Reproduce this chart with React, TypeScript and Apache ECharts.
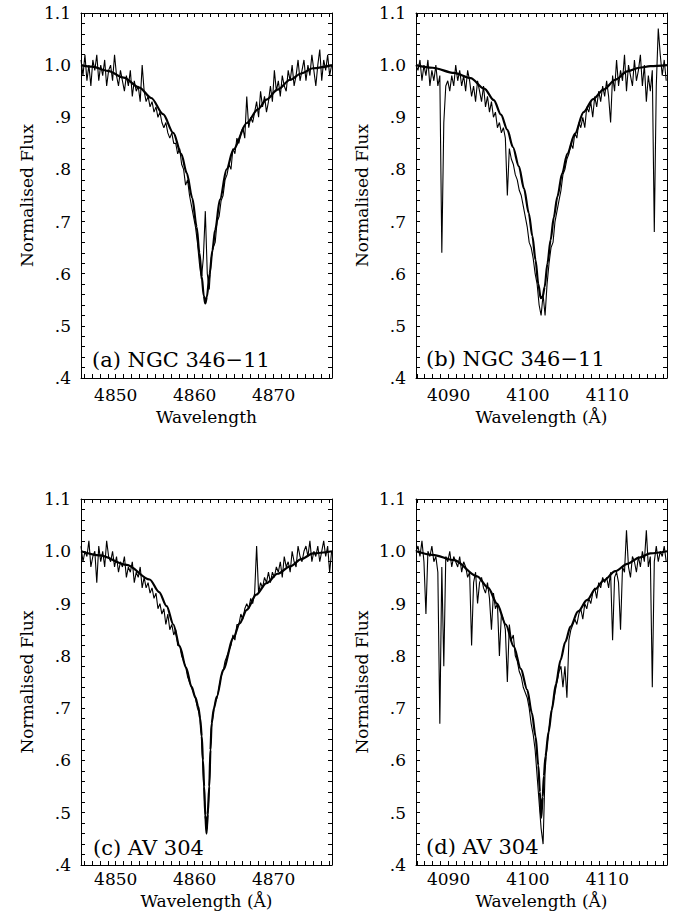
import React, { useEffect, useRef } from "react";
import * as echarts from "echarts";

// ---------- axis settings ----------
const hbetaRange = [4845.6, 4877.4];
const hdeltaRange = [4085.9, 4117.5];
const hbetaLabels = [4850, 4860, 4870];
const hdeltaLabels = [4090, 4100, 4110];
const fluxRange = [0.4, 1.1];
const fluxLabels = [0.4, 0.5, 0.6, 0.7, 0.8, 0.9, 1.0, 1.1];
const panelLabels = ["(a) NGC 346\u221211", "(b) NGC 346\u221211", "(c) AV 304", "(d) AV 304"];
const xNames = ["Wavelength", "Wavelength (\u00c5)", "Wavelength (\u00c5)", "Wavelength (\u00c5)"];
const yName = "Normalised Flux";

// ---------- observed spectra (uniform wavelength grid) ----------
const obsStep = 0.25;
const obsAStart = 4845.6;
const obsA = [
  1.01, 0.98, 1.02, 0.97, 1.0, 0.96, 1.01, 0.99, 1.02, 0.97, 1.0, 0.98, 1.01, 0.96, 0.99, 1.0,
  0.97, 1.02, 0.98, 0.96, 0.99, 0.97, 0.95, 0.98, 0.96, 0.99, 0.94, 0.97, 0.95, 0.96, 0.93, 1.0,
  0.95, 0.93, 0.94, 0.92, 0.93, 0.91, 0.92, 0.9, 0.91, 0.89, 0.88, 0.89, 0.87, 0.86, 0.87, 0.85,
  0.85, 0.83, 0.84, 0.81, 0.8, 0.77, 0.78, 0.75, 0.73, 0.71, 0.69, 0.66, 0.62, 0.59, 0.63, 0.72,
  0.6, 0.57, 0.63, 0.65, 0.66, 0.7, 0.71, 0.74, 0.75, 0.78, 0.79, 0.81, 0.8, 0.84, 0.83, 0.86,
  0.85, 0.87, 0.88, 0.86, 0.94, 0.88, 0.9, 0.89, 0.91, 0.93, 0.9, 0.95, 0.92, 0.94, 0.91, 0.93,
  0.96, 0.93, 0.99, 0.95, 0.97, 0.94, 0.98, 0.96, 0.95, 0.99, 0.97, 1.0, 0.96, 0.98, 1.01, 0.97,
  0.99, 1.01, 0.97, 1.0, 0.98, 1.02, 0.99, 0.96, 1.0, 1.03, 0.97, 1.01, 0.99, 1.02, 0.98, 1.0,
];
const obsBStart = 4085.9;
const obsB = [
  1.0, 0.99, 1.01, 0.97, 1.0, 0.98, 1.01, 0.96, 0.99, 0.97, 1.0, 0.96, 0.98, 0.64, 0.89, 0.96,
  0.97, 0.95, 0.98, 0.96, 1.0, 0.97, 0.99, 0.96, 0.98, 0.95, 0.99, 0.97, 0.94, 0.96, 0.93, 0.97,
  0.95, 0.93, 0.96, 0.92, 0.94, 0.91, 0.93, 0.9, 0.91, 0.88, 0.89, 0.87, 0.88, 0.86, 0.75, 0.84,
  0.82, 0.81, 0.79, 0.78, 0.76, 0.75, 0.73, 0.71, 0.69, 0.66, 0.65, 0.63, 0.6, 0.58, 0.54, 0.52,
  0.56, 0.52, 0.58, 0.62, 0.65, 0.66, 0.7, 0.72, 0.74, 0.76, 0.79, 0.8, 0.82, 0.83, 0.85, 0.84,
  0.87, 0.86, 0.89, 0.88, 0.9, 0.88, 0.92, 0.91, 0.93, 0.9, 0.94, 0.92, 0.95, 0.93, 0.96, 0.94,
  0.97, 0.94, 0.89, 0.98, 0.95, 1.01, 0.96, 0.99, 0.97, 1.02, 0.95, 1.0, 0.98, 0.96, 1.01, 0.97,
  0.99, 1.02, 0.96, 1.0, 0.93, 0.98, 0.95, 0.99, 0.68, 0.96, 1.07, 1.02, 0.98, 1.01, 0.97,
];
const obsCStart = 4845.6;
const obsC = [
  1.01, 0.98, 1.0, 0.99, 1.02, 0.97, 0.99, 1.0, 0.94, 1.01, 0.98, 1.0, 0.97, 1.02, 0.99, 0.98,
  1.0, 0.97, 0.99, 0.96, 0.98, 0.97, 0.99, 0.95, 0.97, 0.96, 0.98, 0.94, 0.96, 0.95, 0.97, 0.93,
  0.95, 0.93, 0.94, 0.92, 0.93, 0.91, 0.92, 0.89, 0.9, 0.88, 0.89, 0.86, 0.88, 0.85, 0.86, 0.84,
  0.85, 0.82, 0.82, 0.8, 0.79, 0.78, 0.76, 0.75, 0.74, 0.73, 0.72, 0.7, 0.69, 0.65, 0.57, 0.49,
  0.47, 0.55, 0.66, 0.69, 0.71, 0.72, 0.74, 0.76, 0.77, 0.79, 0.8, 0.81, 0.82, 0.84, 0.83, 0.86,
  0.86, 0.88, 0.87, 0.89, 0.9, 0.89, 0.91, 0.9, 0.92, 1.01, 0.92, 0.94, 0.93, 0.95, 0.94, 0.96,
  0.94, 0.96, 0.95, 0.97, 0.96, 0.98, 0.95, 0.99, 0.97, 0.98, 0.96, 1.0, 0.98, 0.97, 1.01, 0.99,
  0.98, 1.0, 1.01, 0.99, 1.02, 0.98, 1.0, 0.99, 1.01, 0.98, 1.0, 1.02, 0.99, 1.01, 0.96, 1.0,
];
const obsDStart = 4085.9;
const obsD = [
  1.0, 1.01, 0.99, 1.02, 0.98, 0.88, 1.0, 0.99, 1.01, 0.98, 0.99, 0.96, 0.67, 0.97, 0.78, 0.99,
  0.98, 1.0, 0.97, 0.99, 0.98, 0.97, 0.99, 0.96, 0.98, 0.97, 0.95, 0.96, 0.82, 0.94, 0.96, 0.9,
  0.94, 0.95, 0.93, 0.92, 0.94, 0.91, 0.85, 0.92, 0.89, 0.9, 0.8, 0.88, 0.87, 0.85, 0.75, 0.86,
  0.83, 0.84, 0.8, 0.79, 0.77, 0.76, 0.74, 0.73, 0.72, 0.7, 0.67, 0.65, 0.62, 0.57, 0.52, 0.47,
  0.44, 0.58, 0.63, 0.66, 0.69, 0.71, 0.73, 0.75, 0.77, 0.78, 0.74, 0.78, 0.72, 0.83, 0.85, 0.86,
  0.87, 0.86, 0.88, 0.89, 0.87, 0.9, 0.89, 0.91, 0.9, 0.92, 0.93, 0.91, 0.94, 0.93, 0.95, 0.94,
  0.95, 0.93, 0.96, 0.83, 0.95, 0.96, 0.94, 0.85, 0.97, 0.96, 1.04, 0.97, 0.95, 0.99, 0.98, 0.96,
  0.99, 0.97, 1.0, 0.98, 1.04, 0.97, 0.99, 0.74, 0.98, 1.01, 0.98, 1.0, 0.99, 1.01, 0.98,
];

// ---------- model profiles ----------
const modelAWave = [4845.6, 4847, 4849, 4851, 4853, 4854.5, 4856, 4857.3, 4858.3, 4859.0, 4859.7, 4860.25, 4860.6, 4860.9, 4861.15, 4861.35, 4861.55, 4861.9, 4862.25, 4862.6, 4863.2, 4864.05, 4864.9, 4866.6, 4868, 4869.1, 4870.5, 4872.1, 4873.5, 4875, 4877.4];
const modelAFlux = [1.0, 0.997, 0.989, 0.976, 0.957, 0.937, 0.906, 0.87, 0.83, 0.793, 0.745, 0.69, 0.64, 0.594, 0.558, 0.543, 0.556, 0.6, 0.645, 0.684, 0.742, 0.8, 0.838, 0.889, 0.915, 0.934, 0.953, 0.972, 0.984, 0.994, 1.0];
const modelBWave = [4085.9, 4088, 4090.7, 4092.77, 4094.5, 4095.7, 4096.6, 4097.4, 4098.1, 4098.85, 4099.5, 4100.1, 4100.55, 4100.95, 4101.3, 4101.6, 4101.85, 4102.1, 4102.45, 4102.85, 4103.25, 4103.7, 4104.3, 4104.95, 4105.9, 4107.0, 4108.2, 4109.5, 4111, 4112.5, 4114, 4115.4, 4117.5];
const modelBFlux = [1.0, 0.995, 0.985, 0.975, 0.955, 0.933, 0.905, 0.876, 0.843, 0.806, 0.763, 0.716, 0.672, 0.626, 0.58, 0.553, 0.556, 0.575, 0.62, 0.665, 0.708, 0.748, 0.792, 0.83, 0.868, 0.91, 0.935, 0.953, 0.972, 0.988, 0.995, 0.998, 1.0];
const modelCWave = [4845.6, 4848, 4851.4, 4854.3, 4855.5, 4856.45, 4857.3, 4858.1, 4858.9, 4859.6, 4860.1, 4860.45, 4860.7, 4860.9, 4861.05, 4861.2, 4861.35, 4861.5, 4861.65, 4861.85, 4862.0, 4862.15, 4862.45, 4862.8, 4863.6, 4864.9, 4865.7, 4866.6, 4867.8, 4869.1, 4870.5, 4872.1, 4873.5, 4875.0, 4877.4];
const modelCFlux = [1.0, 0.992, 0.974, 0.946, 0.922, 0.895, 0.86, 0.818, 0.778, 0.741, 0.72, 0.703, 0.68, 0.646, 0.6, 0.55, 0.495, 0.46, 0.497, 0.55, 0.62, 0.671, 0.7, 0.722, 0.773, 0.834, 0.862, 0.888, 0.917, 0.939, 0.957, 0.971, 0.985, 0.996, 1.0];
const modelDWave = [4085.9, 4088, 4090.7, 4093.6, 4095, 4096.1, 4097.2, 4098.2, 4099.1, 4099.9, 4100.5, 4100.95, 4101.3, 4101.5, 4101.66, 4101.85, 4102.0, 4102.2, 4102.6, 4103.0, 4103.5, 4104.1, 4104.7, 4105.35, 4106.3, 4107.45, 4108.5, 4109.5, 4111, 4112.5, 4114, 4115.4, 4117.5];
const modelDFlux = [1.0, 0.993, 0.983, 0.952, 0.93, 0.9, 0.86, 0.818, 0.775, 0.735, 0.69, 0.646, 0.59, 0.54, 0.49, 0.53, 0.57, 0.608, 0.655, 0.697, 0.745, 0.792, 0.827, 0.856, 0.885, 0.907, 0.928, 0.944, 0.962, 0.976, 0.988, 0.996, 1.0];

const FONT = "DejaVu Serif";

const grids = [
  { left: 81, top: 13, width: 251, height: 365 },
  { left: 416, top: 13, width: 251, height: 365 },
  { left: 81, top: 499, width: 251, height: 366 },
  { left: 416, top: 499, width: 251, height: 366 },
];
const xNameGaps = [30, 30, 27, 27];
const xLabelMargins = [8, 8, 5, 5];
const labelPos = [
  [92, 361],
  [426, 360],
  [93, 849],
  [426, 848],
];

function buildOption() {
  const panels = [
    { range: hbetaRange, labels: hbetaLabels, start: obsAStart, obs: obsA, mw: modelAWave, mf: modelAFlux },
    { range: hdeltaRange, labels: hdeltaLabels, start: obsBStart, obs: obsB, mw: modelBWave, mf: modelBFlux },
    { range: hbetaRange, labels: hbetaLabels, start: obsCStart, obs: obsC, mw: modelCWave, mf: modelCFlux },
    { range: hdeltaRange, labels: hdeltaLabels, start: obsDStart, obs: obsD, mw: modelDWave, mf: modelDFlux },
  ];
  const xAxis: any[] = [];
  const yAxis: any[] = [];
  const series: any[] = [];
  const graphic: any[] = [];
  const yTicks: number[] = [];
  for (let k = 0; k <= 35; k++) yTicks.push(Math.round((0.4 + k * 0.02) * 1000) / 1000);
  const line = { show: true, lineStyle: { color: "#000", width: 1 } };
  const tickStyle = { color: "#000", width: 1 };
  panels.forEach((p, i) => {
    const xTicks: number[] = [];
    for (let w = Math.ceil(p.range[0]); w <= p.range[1]; w++) xTicks.push(w);
    xAxis.push({
      type: "value", gridIndex: i, position: "bottom", min: p.range[0], max: p.range[1],
      axisLine: line,
      axisTick: { show: true, inside: true, length: 4, customValues: xTicks, lineStyle: tickStyle },
      axisLabel: {
        customValues: p.labels, color: "#000", fontFamily: FONT, fontSize: 17, lineHeight: 17,
        margin: xLabelMargins[i], formatter: (v: number) => String(Math.round(v)),
      },
      splitLine: { show: false },
      name: xNames[i], nameLocation: "middle", nameGap: xNameGaps[i],
      nameTextStyle: { color: "#000", fontFamily: FONT, fontSize: 17, lineHeight: 17 },
    });
    xAxis.push({
      type: "value", gridIndex: i, position: "top", min: p.range[0], max: p.range[1],
      axisLine: line,
      axisTick: { show: true, inside: true, length: 4, customValues: xTicks, lineStyle: tickStyle },
      axisLabel: { show: false },
      splitLine: { show: false },
    });
    yAxis.push({
      type: "value", gridIndex: i, position: "left", min: fluxRange[0], max: fluxRange[1],
      axisLine: line,
      axisTick: { show: true, inside: true, length: 4, customValues: yTicks, lineStyle: tickStyle },
      axisLabel: {
        customValues: fluxLabels, color: "#000", fontFamily: FONT, fontSize: 17, margin: 10,
        formatter: (v: number) => (v > 0.95 ? v.toFixed(1) : "." + Math.round(v * 10)),
      },
      splitLine: { show: false },
      name: yName, nameLocation: "middle", nameGap: 46,
      nameTextStyle: { color: "#000", fontFamily: FONT, fontSize: 17 },
    });
    yAxis.push({
      type: "value", gridIndex: i, position: "right", min: fluxRange[0], max: fluxRange[1],
      axisLine: line,
      axisTick: { show: true, inside: true, length: 4, customValues: yTicks, lineStyle: tickStyle },
      axisLabel: { show: false },
      splitLine: { show: false },
    });
    series.push({
      type: "line", xAxisIndex: 2 * i, yAxisIndex: 2 * i, showSymbol: false, symbol: "none",
      data: p.obs.map((f, j) => [p.start + j * obsStep, f]),
      lineStyle: { color: "#000", width: 1.1 }, z: 2, clip: true,
    });
    series.push({
      type: "line", xAxisIndex: 2 * i, yAxisIndex: 2 * i, showSymbol: false, symbol: "none",
      data: p.mw.map((w, j) => [w, p.mf[j]]),
      smooth: 0.3, smoothMonotone: "x",
      lineStyle: { color: "#000", width: 2.2 }, z: 3, clip: true,
    });
    graphic.push({
      type: "text", left: labelPos[i][0], top: labelPos[i][1] - 12,
      style: { text: panelLabels[i], fill: "#000", font: `21px "${FONT}"` },
    });
  });
  return {
    animation: false,
    backgroundColor: "#fff",
    grid: grids.map((g) => ({ ...g, containLabel: false })),
    xAxis, yAxis, series, graphic,
  };
}

export default function App() {
  const ref = useRef<HTMLDivElement>(null);
  useEffect(() => {
    if (!ref.current) return;
    const chart = echarts.init(ref.current, null, { renderer: "svg" });
    chart.setOption(buildOption() as any);
    return () => chart.dispose();
  }, []);
  return (
    <div
      ref={ref}
      style={{ position: "fixed", left: 0, top: 0, width: 677, height: 913, background: "#fff" }}
    />
  );
}
